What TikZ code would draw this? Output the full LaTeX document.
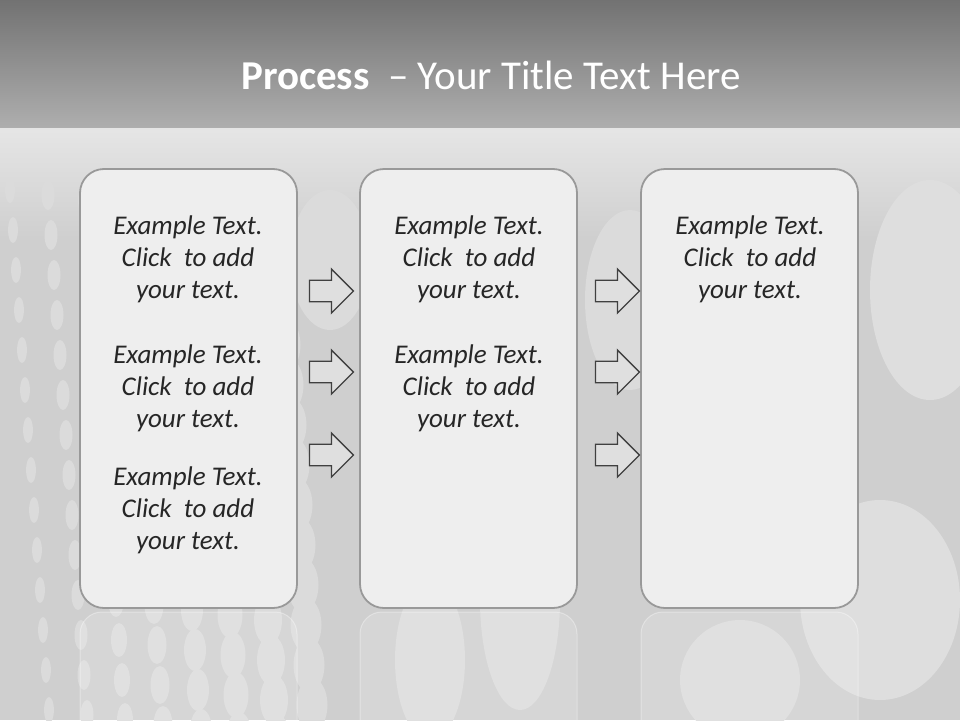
\documentclass[tikz,border=0pt]{standalone}
\usepackage{fontspec}
\setmainfont{Carlito}
\usetikzlibrary{shapes.arrows}
\begin{document}
\begin{tikzpicture}[x=1pt,y=-1pt,
  panel/.style={draw=gray!80,line width=1.8pt,fill=gray!13,rounded corners=24pt},
  refl/.style={draw=white,opacity=0.35,line width=1pt,fill=white,fill opacity=0.15,rounded corners=22pt},
  txt/.style={align=center,font=\itshape\fontsize{27}{32}\selectfont,text=black!85},
  barrow/.style={single arrow,draw=gray!50!black,line width=1.3pt,fill=gray!25,minimum height=44pt,minimum width=44pt,single arrow head extend=11pt,inner sep=10pt}]
\useasboundingbox (0,0) rectangle (960,720);
\fill[gray!38] (0,0) rectangle (960,720);
\shade[top color=gray!70!black!85,bottom color=gray!85!black!55] (0,0) rectangle (960,128);
\shade[top color=gray!20,bottom color=gray!38] (0,128) rectangle (960,240);
% dotted pattern
\begin{scope}
\clip (0,128) rectangle (960,720);
\foreach \c in {0,...,7}{
  \foreach \r in {0,...,14}{
    \pgfmathsetmacro\xx{10+\c*38+\r*3}
    \pgfmathsetmacro\yy{190+\r*40+\c*5}
    \fill[gray!28] (\xx,\yy) ellipse ({5+\c*1.5} and {13+\c*2});
  }}
\fill[gray!28] (330,260) ellipse (40 and 70);
\fill[gray!28] (630,300) ellipse (45 and 90);
\fill[gray!26] (930,290) ellipse (60 and 110);
\fill[gray!26] (880,600) ellipse (80 and 100);
\fill[gray!28] (520,600) ellipse (40 and 110);
\fill[gray!28] (430,660) ellipse (35 and 80);
\fill[gray!28] (740,680) ellipse (60 and 60);
\end{scope}
\node[font=\fontsize{41}{46}\selectfont,text=white] (title) at (491,75) {\textbf{Process} \ – Your Title Text Here};
% reflections
\draw[refl] (80,612) rectangle (297,760);
\draw[refl] (360,612) rectangle (577,760);
\draw[refl] (641,612) rectangle (858,760);
% panels
\draw[panel] (80,169) rectangle (297,608);
\draw[panel] (360,169) rectangle (577,608);
\draw[panel] (641,169) rectangle (858,608);
\node[txt] (t1) at (188,259) {Example Text.\\Click \ to add\\your text.};
\node[txt] (t2) at (188,388) {Example Text.\\Click \ to add\\your text.};
\node[txt] (t3) at (188,510) {Example Text.\\Click \ to add\\your text.};
\node[txt] (t4) at (469,259) {Example Text.\\Click \ to add\\your text.};
\node[txt] (t5) at (469,388) {Example Text.\\Click \ to add\\your text.};
\node[txt] (t6) at (750,259) {Example Text.\\Click \ to add\\your text.};
\node[barrow] (a1) at (326,291) {};
\node[barrow] (a2) at (326,372) {};
\node[barrow] (a3) at (326,455) {};
\node[barrow] (a4) at (612,291) {};
\node[barrow] (a5) at (612,372) {};
\node[barrow] (a6) at (612,455) {};
\end{tikzpicture}
\end{document}
